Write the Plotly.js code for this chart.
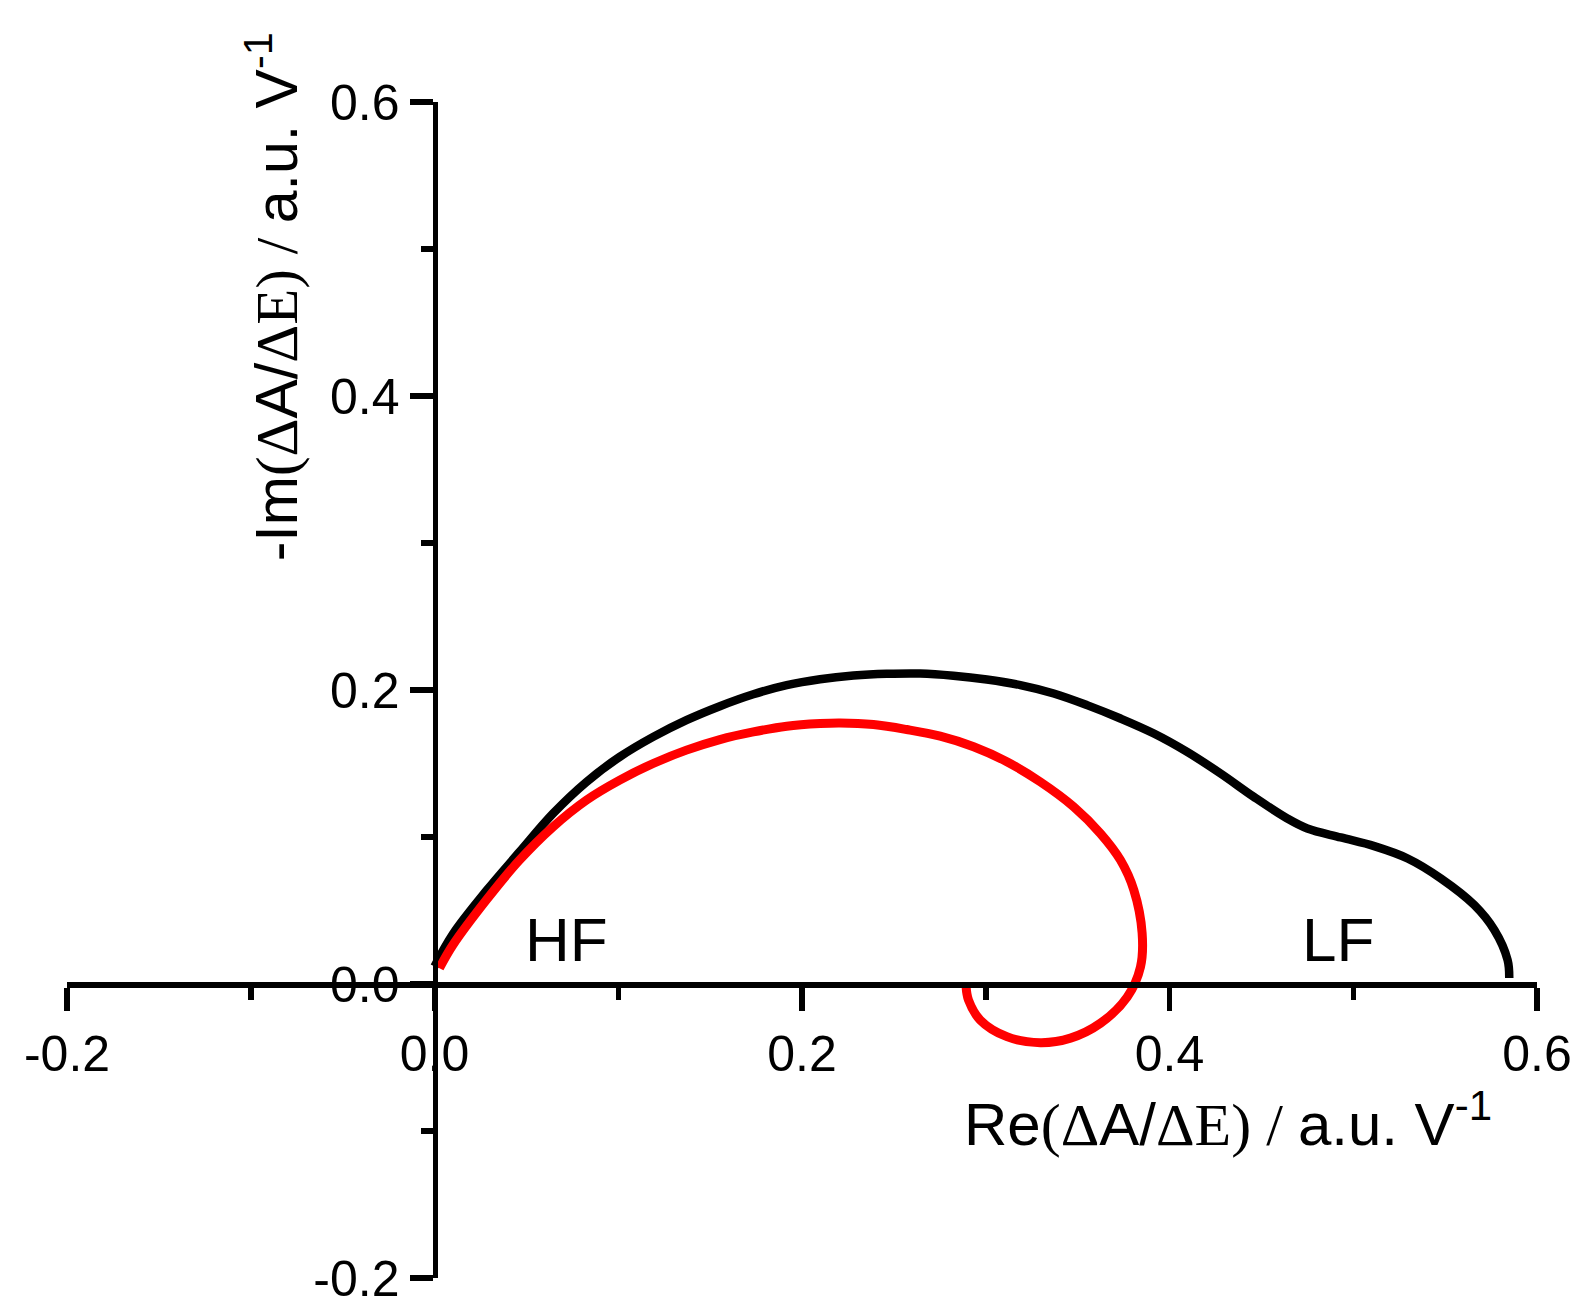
<!DOCTYPE html>
<html>
<head>
<meta charset="utf-8">
<script src="https://cdn.plot.ly/plotly-3.0.1.min.js"></script>
<style>html,body{margin:0;padding:0;background:#fff;}</style>
</head>
<body>
<div id="chart" style="width:1591px;height:1316px;"></div>
<script>
// Black curve
const blackRe = [0.0000,0.0100,0.0282,0.0463,0.0645,0.0827,0.1008,0.1190,0.1371,0.1553,0.1735,0.1917,0.2098,0.2280,0.2461,0.2643,0.2824,0.3006,0.3188,0.3370,0.3551,0.3733,0.3915,0.4096,0.4278,0.4459,0.4641,0.4750,0.4932,0.5114,0.5296,0.5477,0.5659,0.5768,0.5840,0.5849];
const blackIm = [0.0120,0.0340,0.0634,0.0899,0.1160,0.1375,0.1545,0.1681,0.1795,0.1890,0.1971,0.2033,0.2073,0.2098,0.2110,0.2112,0.2097,0.2071,0.2033,0.1976,0.1897,0.1806,0.1704,0.1579,0.1432,0.1273,0.1126,0.1058,0.0997,0.0938,0.0854,0.0718,0.0537,0.0367,0.0163,0.0041];
// Red curve
const redRe = [0.0027,0.0100,0.0282,0.0463,0.0645,0.0827,0.1008,0.1190,0.1371,0.1553,0.1735,0.1917,0.2098,0.2207,0.2389,0.2570,0.2752,0.2934,0.3115,0.3297,0.3479,0.3624,0.3733,0.3806,0.3851,0.3842,0.3770,0.3624,0.3461,0.3297,0.3115,0.2970,0.2906,0.2893];
const redIm = [0.0107,0.0265,0.0571,0.0843,0.1069,0.1251,0.1387,0.1500,0.1591,0.1663,0.1715,0.1754,0.1772,0.1776,0.1765,0.1731,0.1686,0.1614,0.1512,0.1375,0.1205,0.1024,0.0843,0.0639,0.0347,0.0116,-0.0088,-0.0267,-0.0368,-0.0399,-0.0358,-0.0245,-0.0109,-0.0020];

const xTickVals = [-0.2,0.0,0.2,0.4,0.6];
const xTickText = ["-0.2","0.0","0.2","0.4","0.6"];
const xMinorVals = [-0.1,0.1,0.3,0.5];
const yTickVals = [-0.2,0.0,0.2,0.4,0.6];
const yTickText = ["-0.2","0.0","0.2","0.4","0.6"];
const yMinorVals = [-0.1,0.1,0.3,0.5];

const SANS = "Liberation Sans, Arial, sans-serif";
const SERIF = "Liberation Serif, Times New Roman, serif";
const sr = s => '<span style="font-family:' + SERIF + '">' + s + '</span>';

const xTitle = 'Re' + sr('(&#916;') + 'A/' + sr('&#916;E)') + sr(' / ') + 'a.u. V<sup>-1</sup>';
const yTitle = '-Im' + sr('(&#916;') + 'A/' + sr('&#916;E)') + sr(' / ') + 'a.u. V<sup>-1</sup>';

const traces = [
  {x: blackRe, y: blackIm, mode: 'lines', line: {color: '#000000', width: 8.5, shape: 'spline', smoothing: 1}, hoverinfo: 'skip'},
  {x: redRe, y: redIm, mode: 'lines', line: {color: '#ff0000', width: 9, shape: 'spline', smoothing: 1}, hoverinfo: 'skip'}
];

const axCommon = {
  showgrid: false, zeroline: false, showline: true, linewidth: 5.5, linecolor: '#000',
  ticks: 'outside', ticklen: 23, tickwidth: 5.5, tickcolor: '#000',
  tickmode: 'array', anchor: 'free', position: 0.25,
  tickfont: {family: SANS, size: 50, color: '#000'},
  fixedrange: true
};

const layout = {
  width: 1591, height: 1316,
  margin: {l: 67, r: 54, t: 102, b: 38, pad: 0},
  paper_bgcolor: '#fff', plot_bgcolor: '#fff',
  showlegend: false,
  xaxis: Object.assign({}, axCommon, {
    range: [-0.2, 0.6], tickvals: xTickVals, ticktext: xTickText,
    minor: {tickmode: 'array', tickvals: xMinorVals, ticks: 'outside', ticklen: 12, tickwidth: 5.5, tickcolor: '#000', showgrid: false}
  }),
  yaxis: Object.assign({}, axCommon, {
    range: [-0.2, 0.6], tickvals: yTickVals, ticktext: yTickText,
    minor: {tickmode: 'array', tickvals: yMinorVals, ticks: 'outside', ticklen: 12, tickwidth: 5.5, tickcolor: '#000', showgrid: false}
  }),
  annotations: [
    {text: 'HF', x: 0.072, y: 0.03, xref: 'x', yref: 'y', showarrow: false, xanchor: 'center', yanchor: 'middle', font: {family: SANS, size: 62, color: '#000'}},
    {text: 'LF', x: 0.4916, y: 0.03, xref: 'x', yref: 'y', showarrow: false, xanchor: 'center', yanchor: 'middle', font: {family: SANS, size: 62, color: '#000'}},
    {text: xTitle, x: 0.7895, y: 0.134, xref: 'paper', yref: 'paper', showarrow: false, xanchor: 'center', yanchor: 'middle', font: {family: SANS, size: 60, color: '#000'}},
    {text: yTitle, x: 0.1395, y: 0.834, xref: 'paper', yref: 'paper', showarrow: false, textangle: -90, xanchor: 'center', yanchor: 'middle', font: {family: SANS, size: 59, color: '#000'}}
  ]
};

Plotly.newPlot('chart', traces, layout, {displayModeBar: false, staticPlot: true});
</script>
</body>
</html>
